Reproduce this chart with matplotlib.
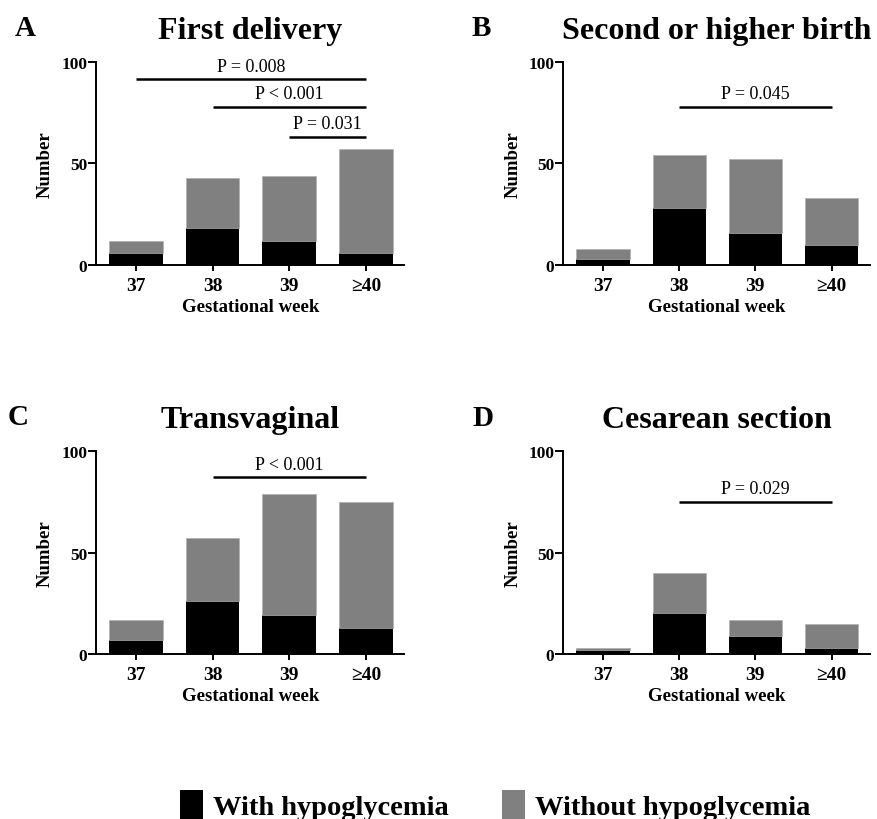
import matplotlib
matplotlib.use("Agg")
import matplotlib.pyplot as plt
from matplotlib.patches import Patch

plt.rcParams['font.family'] = ['Liberation Serif', 'DejaVu Serif']

# gestational weeks on the x axis
weeks = ['37', '38', '39', '\u226540']

# counts: with / without hypoglycemia
first_with = [6, 18, 12, 6]
first_without = [6, 25, 32, 51]
second_with = [3, 28, 16, 10]
second_without = [5, 26, 36, 23]
vaginal_with = [7, 26, 19, 13]
vaginal_without = [10, 31, 60, 62]
cesarean_with = [2, 20, 9, 3]
cesarean_without = [1, 20, 8, 12]

# significance bars: (from week index, to week index, height, label)
first_sig = [(0, 3, 91.5, 'P = 0.008'), (1, 3, 78, 'P < 0.001'), (2, 3, 63, 'P = 0.031')]
second_sig = [(1, 3, 78, 'P = 0.045')]
vaginal_sig = [(1, 3, 87, 'P < 0.001')]
cesarean_sig = [(1, 3, 75, 'P = 0.029')]

BLACK = '#000000'
GRAY = '#808080'


def plot_panel(ax, title, with_h, without_h, sig):
    x = list(range(len(weeks)))
    ax.bar(x, with_h, width=0.7, color=BLACK, linewidth=0)
    ax.bar(x, without_h, width=0.7, bottom=with_h, color=GRAY,
           edgecolor='#b0b0b0', linewidth=0.5)

    # significance lines with p-values above them
    for x0, x1, h, label in sig:
        ax.plot([x0, x1], [h, h], color='black', lw=1.8, solid_capstyle='butt')
        ax.text((x0 + x1) / 2, h + 2.3, label, ha='center', va='bottom', fontsize=13)

    ax.set_xlim(-0.52, 3.5)
    ax.set_ylim(0, 100)
    ax.set_xticks(x)
    ax.set_xticklabels(weeks, fontsize=14, fontweight='bold')
    ax.set_yticks([0, 50, 100])
    ax.set_yticklabels(['0', '50', '100'], fontsize=12.5, fontweight='bold')
    ax.tick_params(axis='y', length=5.5, width=1.4, pad=1)
    ax.tick_params(axis='x', length=4.5, width=1.4, pad=4)
    for side in ['top', 'right']:
        ax.spines[side].set_visible(False)
    for side in ['left', 'bottom']:
        ax.spines[side].set_linewidth(1.4)
    ax.set_xlabel('Gestational week', fontsize=13.5, fontweight='bold', labelpad=3)
    ax.set_ylabel('Number', fontsize=13.5, fontweight='bold', labelpad=5)
    ax.text(0.5, 1.118, title, transform=ax.transAxes, ha='center', va='baseline',
            fontsize=23, fontweight='bold')


fig = plt.figure(figsize=(8.78, 8.2), dpi=100)

axA = fig.add_axes([0.1095, 0.6756, 0.351, 0.2476])
axB = fig.add_axes([0.6416, 0.6756, 0.349, 0.2476])
axC = fig.add_axes([0.1095, 0.2012, 0.351, 0.2476])
axD = fig.add_axes([0.6416, 0.2012, 0.349, 0.2476])

plot_panel(axA, 'First delivery', first_with, first_without, first_sig)
plot_panel(axB, 'Second or higher birth', second_with, second_without, second_sig)
plot_panel(axC, 'Transvaginal', vaginal_with, vaginal_without, vaginal_sig)
plot_panel(axD, 'Cesarean section', cesarean_with, cesarean_without, cesarean_sig)

# panel letters
for letter, px, py in [('A', 15, 36), ('B', 472, 36), ('C', 8, 425), ('D', 472, 426)]:
    fig.text(px / 878, 1 - py / 820, letter, ha='left', va='baseline',
             fontsize=21, fontweight='bold')

# legend sits on the bottom edge, squares run off the figure like the original
handles = [Patch(facecolor=BLACK, edgecolor='none'), Patch(facecolor=GRAY, edgecolor='none')]
fig.legend(handles, ['With hypoglycemia', 'Without hypoglycemia'],
           loc='center', bbox_to_anchor=(0.564, 0.0175), ncol=2, frameon=False,
           prop={'size': 20.5, 'weight': 'bold'}, handlelength=0.78, handleheight=1.2,
           handletextpad=0.35, columnspacing=1.9, borderpad=0)

fig.savefig('out.png', dpi=100)
